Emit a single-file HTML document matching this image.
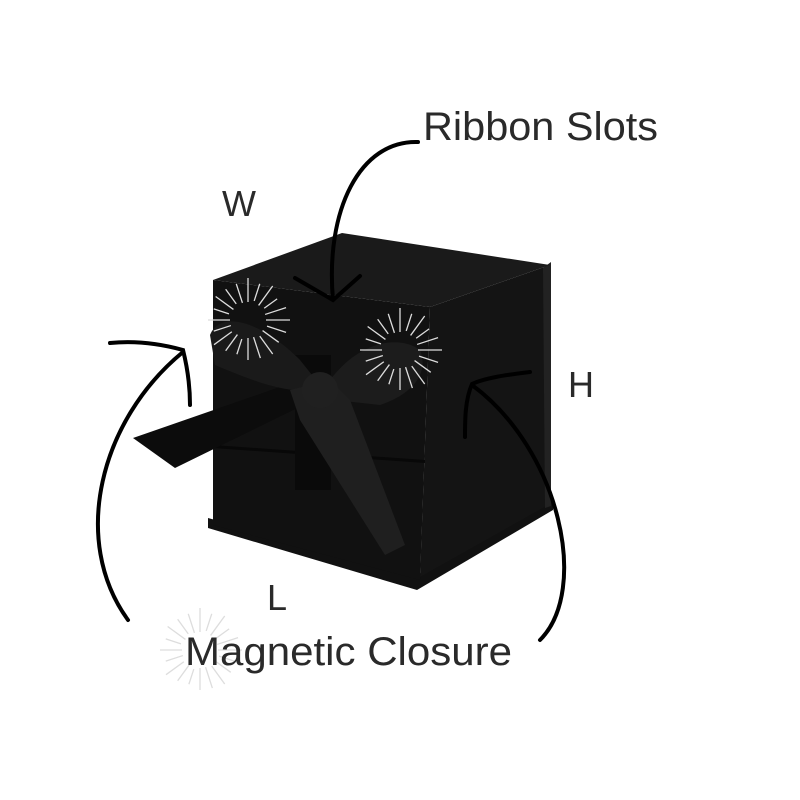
<!DOCTYPE html>
<html><head><style>
body{margin:0;background:#fff;}
svg{display:block}
text{font-family:"Liberation Sans",sans-serif;fill:#2a2a2a}
</style></head><body>
<svg width="800" height="800" viewBox="0 0 800 800" xmlns="http://www.w3.org/2000/svg">
<defs>
<g id="burst" stroke="#ddd" stroke-width="1.3">
<line x1="0" y1="-18" x2="0" y2="-42"/><line x1="0" y1="18" x2="0" y2="40"/>
<line x1="18" y1="0" x2="42" y2="0"/><line x1="-18" y1="0" x2="-40" y2="0"/>
<g transform="rotate(18)"><line x1="0" y1="-20" x2="0" y2="-38"/><line x1="0" y1="20" x2="0" y2="36"/><line x1="20" y1="0" x2="40" y2="0"/><line x1="-20" y1="0" x2="-36" y2="0"/></g>
<g transform="rotate(36)"><line x1="0" y1="-18" x2="0" y2="-42"/><line x1="0" y1="18" x2="0" y2="38"/><line x1="18" y1="0" x2="38" y2="0"/><line x1="-18" y1="0" x2="-40" y2="0"/></g>
<g transform="rotate(54)"><line x1="0" y1="-20" x2="0" y2="-36"/><line x1="0" y1="20" x2="0" y2="42"/><line x1="20" y1="0" x2="42" y2="0"/><line x1="-20" y1="0" x2="-38" y2="0"/></g>
<g transform="rotate(72)"><line x1="0" y1="-18" x2="0" y2="-40"/><line x1="0" y1="18" x2="0" y2="36"/><line x1="18" y1="0" x2="40" y2="0"/><line x1="-18" y1="0" x2="-38" y2="0"/></g>
</g>
</defs>
<!-- base plate -->
<polygon points="208,518 417,575 553,498 553,510 417,590 208,528" fill="#111"/>
<!-- right face -->
<polygon points="430,307 550,265 548,505 420,577" fill="#141414"/>
<polygon points="543,268 551,262 551,506 545,508" fill="#222"/>
<!-- top -->
<polygon points="213,280 342,233 550,265 430,307" fill="#1a1a1a"/>
<!-- front -->
<polygon points="213,280 430,307 420,580 213,525" fill="#111"/>
<polygon points="213,445 425,460 425,463 213,448" fill="#080808"/>
<!-- ribbon -->
<rect x="295" y="355" width="36" height="135" fill="#0a0a0a"/>
<polygon points="133,438 300,380 330,392 175,468" fill="#0c0c0c"/>
<path d="M210,335 C220,310 260,320 300,360 L320,385 C300,400 250,380 215,365 Z" fill="#1a1a1a"/>
<path d="M330,380 C360,340 400,335 420,350 C430,375 410,395 380,405 L335,400 Z" fill="#1c1c1c"/>
<polygon points="290,390 330,380 350,400 405,545 385,555 300,420" fill="#1f1f1f"/>
<circle cx="320" cy="390" r="18" fill="#202020"/>
<use href="#burst" transform="translate(248,320)"/>
<use href="#burst" transform="translate(400,350)"/>
<use href="#burst" transform="translate(200,650)"/>
<!-- arrows -->
<g fill="none" stroke="#000" stroke-width="4" stroke-linecap="round">
<path d="M418,142 C360,140 325,210 333,300"/>
<path d="M295,278 L333,300 L360,276"/>
<path d="M128,620 C70,540 100,420 183,352"/>
<path d="M110,343 C140,340 165,345 183,350 C188,370 190,390 190,405"/>
<path d="M540,640 C590,590 560,450 472,385"/>
<path d="M530,372 C505,375 485,378 472,384 C465,400 465,420 465,437"/>
</g>
<text x="423" y="140" font-size="40" textLength="235" lengthAdjust="spacingAndGlyphs">Ribbon Slots</text>
<text x="222" y="216" font-size="36">W</text>
<text x="568" y="397" font-size="36">H</text>
<text x="267" y="610" font-size="36">L</text>
<text x="185" y="665" font-size="40" textLength="327" lengthAdjust="spacingAndGlyphs">Magnetic Closure</text>
</svg>
</body></html>
